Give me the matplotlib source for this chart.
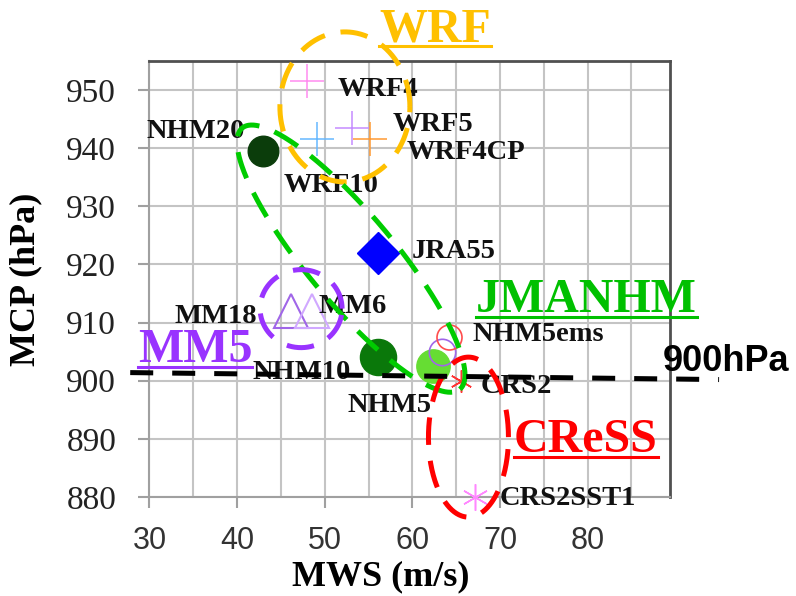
import numpy as np
import matplotlib
matplotlib.use("Agg")
import matplotlib.pyplot as plt
from matplotlib.lines import Line2D
from matplotlib.transforms import IdentityTransform

# ---------------- data ----------------
names = ["WRF4", "WRF5", "WRF4CP", "WRF10", "NHM20", "JRA55", "MM18", "MM6",
         "NHM10", "NHM5", "", "NHM5ems", "CRS2", "CRS2SST1"]
mws = [48.0, 53.1, 55.2, 49.1, 43.0, 56.1, 46.1, 48.6, 56.1, 62.3, 63.4, 64.2, 65.5, 67.2]
mcp = [951.5, 943.5, 941.5, 941.5, 939.5, 922.0, 912.0, 912.0, 904.0, 902.5, 905.0, 907.5, 900.0, 880.0]
x_ticks = [30, 40, 50, 60, 70, 80]
y_ticks = [880, 890, 900, 910, 920, 930, 940, 950]

# ---------------- styles ----------------
markers = ["+", "+", "+", "+", "o", "D", "^", "^", "o", "o", "o", "o", (6, 2, 0), (6, 2, 0)]
colors = ["#FF8CF0", "#C58CFF", "#FF9A33", "#66B8FF", "#0B3D0B", "#0000FF", "#A066E8",
          "#D0A8FF", "#0A780A", "#66DD33", "#A066E8", "#FF4D4D", "#FF3333", "#FF88FF"]
filled = [False, False, False, False, True, True, False, False, True, True, False, False, False, False]
msizes = [24, 24, 24, 24, 22, 21, 25, 25, 26, 24, 19, 18, 16, 19]
mews = [1.1, 1.1, 1.1, 1.1, 1, 1, 1.5, 1.5, 1, 1, 1.2, 1.2, 1.1, 1.1]
label_x = [51.5, 57.7, 59.4, 45.3, 29.7, 59.9, 32.9, 49.3, 41.8, 52.6, 0, 66.9, 67.8, 70.0]
label_y = [949.0, 942.9, 938.1, 932.4, 941.7, 921.1, 910.0, 911.7, 900.3, 894.6, 0, 906.8, 897.9, 878.6]

group_names = ["WRF", "JMANHM", "MM5", "CReSS"]
group_colors = ["#FFC000", "#00C000", "#9933FF", "#FF0000"]
group_x = [62.6, 79.9, 35.2, 79.8]
group_y = [958.4, 911.9, 903.3, 887.8]
ell_colors = ["#FFC000", "#00CC00", "#9933FF", "#FF0000"]
ell_cx = [52.3, 53.0, 47.3, 66.4]
ell_cy = [947.1, 921.0, 912.4, 890.3]
ell_a_px = [65, 170, 41, 40]
ell_b_px = [75, 44, 39, 80]
ell_angle = [0, -50.2, 0, 0]

ref_label = "900hPa"
ref_x = [27.8, 95.0]
ref_y = [901.4, 900.2]
ref_label_pos = (88.6, 901.6)

SERIF = "Liberation Serif"
SANS = "Liberation Sans"
plt.rcParams["font.family"] = "serif"
plt.rcParams["font.serif"] = [SERIF, "DejaVu Serif"]
plt.rcParams["font.sans-serif"] = [SANS, "DejaVu Sans"]

fig = plt.figure(figsize=(7.96, 5.96), dpi=100)
ax = fig.add_axes([0.1878, 0.1661, 0.6539, 0.7316])
ax.set_xlim(30, 89.4)
ax.set_ylim(880, 955)

ax.set_xticks(x_ticks, labels=[str(v) for v in x_ticks], fontfamily="sans-serif",
              fontsize=22, color="#333333")
ax.set_xticks(np.arange(35, 90, 10), minor=True)
ax.set_yticks(y_ticks, labels=[str(v) for v in y_ticks], fontfamily="serif",
              fontsize=24, color="#222222")
ax.grid(True, which="both", axis="x", color="#C4C4C4", lw=1.5, zorder=0)
ax.grid(True, which="major", axis="y", color="#C4C4C4", lw=1.5, zorder=0)
ax.set_axisbelow(True)
ax.tick_params(which="major", direction="out", length=8, width=1.5, color="#A0A0A0")
ax.tick_params(which="minor", length=0)
ax.tick_params(axis="y", pad=16)
ax.tick_params(axis="x", pad=13)

for s in ["left", "bottom"]:
    ax.spines[s].set_color("#A0A0A0")
    ax.spines[s].set_linewidth(1.5)
for s in ["top", "right"]:
    ax.spines[s].set_color("#505050")
    ax.spines[s].set_linewidth(2)

ax.set_xlabel("MWS (m/s)", fontfamily="serif", fontweight="bold", fontsize=26)
ax.set_ylabel("MCP (hPa)", fontfamily="serif", fontweight="bold", fontsize=26)
ax.xaxis.set_label_coords(0.445, -0.145)
ax.yaxis.set_label_coords(-0.205, 0.5)

# points
for i in range(len(names)):
    c = colors[i]
    ax.plot([mws[i]], [mcp[i]], linestyle="none", marker=markers[i], markersize=msizes[i],
            markerfacecolor=(c if filled[i] else "none"), markeredgecolor=c,
            markeredgewidth=mews[i], zorder=3, clip_on=False)
    if names[i]:
        ax.text(label_x[i], label_y[i], names[i], fontfamily="serif", fontweight="bold",
                fontsize=20.5, color="#111111", ha="left", va="baseline", zorder=4)

# group ellipses (drawn in screen space around data centres)
t = np.linspace(0, 2 * np.pi, 400)
for i in range(len(group_names)):
    th = np.deg2rad(ell_angle[i])
    dx = ell_a_px[i] * np.cos(t) * np.cos(th) - ell_b_px[i] * np.sin(t) * np.sin(th)
    dy = ell_a_px[i] * np.cos(t) * np.sin(th) + ell_b_px[i] * np.sin(t) * np.cos(th)
    c = ax.transData.transform((ell_cx[i], ell_cy[i]))
    pts = ax.transData.inverted().transform(np.column_stack([c[0] + dx, c[1] + dy]))
    ax.plot(pts[:, 0], pts[:, 1], color=ell_colors[i], lw=3.6, dashes=(5.5, 3.2),
            clip_on=False, zorder=5)

# 900 hPa reference line
ax.plot(ref_x, ref_y, color="black", lw=3.6, dashes=(4.6, 3.8), clip_on=False, zorder=6)
ax.text(ref_label_pos[0], ref_label_pos[1], ref_label, fontfamily="sans-serif",
        fontweight="bold", fontsize=26, color="black", ha="left", va="baseline", zorder=7)

# group labels with underline
gtexts = []
for i in range(len(group_names)):
    gt = ax.text(group_x[i], group_y[i], group_names[i], fontfamily="serif", fontweight="bold",
                 fontsize=34.5, color=group_colors[i], ha="center", va="baseline", zorder=7)
    gtexts.append(gt)

fig.canvas.draw()
renderer = fig.canvas.get_renderer()
for i, gt in enumerate(gtexts):
    bb = gt.get_window_extent(renderer)
    base = ax.transData.transform((group_x[i], group_y[i]))[1]
    fig.add_artist(Line2D([bb.x0, bb.x1], [base - 5, base - 5], color=group_colors[i],
                          lw=2.2, transform=IdentityTransform()))

fig.savefig("out.png", dpi=100)
